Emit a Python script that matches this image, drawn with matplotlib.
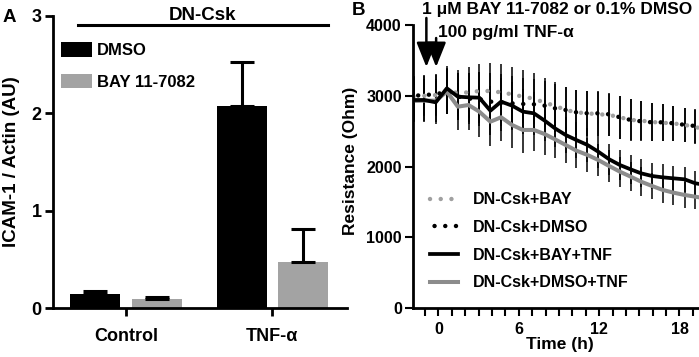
import matplotlib
matplotlib.use('Agg')
import matplotlib.pyplot as plt
import numpy as np

plt.rcParams['font.family'] = ['Liberation Sans', 'DejaVu Sans']
plt.rcParams['font.weight'] = 'bold'
plt.rcParams['axes.labelweight'] = 'bold'

# panel A: ICAM-1 western blot quantification
groups = ['Control', 'TNF-α']
dmso_vals = [0.147, 2.075]
dmso_err = [0.035, 0.455]
bay_vals = [0.095, 0.47]
bay_err = [0.025, 0.345]

# panel B: resistance time course (h, Ohm)
time_h = [-1.85, -1.05, -0.2, 0.63, 1.45, 2.25, 3.05, 3.88, 4.68, 5.5, 6.3, 7.13, 7.93, 8.7,
          9.5, 10.3, 11.13, 11.93, 12.75, 13.55, 14.35, 15.13, 15.95, 16.75, 17.55, 18.38, 19.18, 20.0]
csk_bay = [2990, 3000, 3010, 3070, 3040, 3049, 3068, 3068, 3049, 3021, 2988, 2960, 2903, 2860,
           2800, 2767, 2753, 2740, 2730, 2697, 2660, 2650, 2630, 2620, 2610, 2590, 2560, 2520]
csk_dmso = [3000, 3012, 3021, 3060, 2990, 2960, 2955, 2918, 2908, 2894, 2885, 2880, 2861, 2824,
            2800, 2767, 2753, 2753, 2739, 2697, 2659, 2640, 2626, 2626, 2612, 2590, 2574, 2560]
csk_bay_tnf = [2941, 2941, 2908, 3106, 2988, 2979, 2974, 2790, 2918, 2861, 2777, 2753, 2650, 2541,
               2447, 2376, 2306, 2212, 2104, 2023, 1962, 1906, 1868, 1849, 1835, 1821, 1765, 1740]
csk_dmso_tnf = [2927, 2932, 2932, 3059, 2847, 2870, 2777, 2635, 2697, 2588, 2518, 2518, 2460, 2386,
                2306, 2226, 2165, 2094, 2009, 1929, 1859, 1788, 1727, 1671, 1633, 1600, 1576, 1550]
err_dotted = [280, 280, 290, 320, 330, 360, 380, 400, 400, 380, 370, 360, 350, 340,
              330, 320, 320, 310, 300, 300, 290, 280, 270, 260, 250, 240, 240, 240]
err_tnf = [300, 300, 300, 320, 330, 350, 360, 350, 340, 330, 320, 300, 290, 270,
           260, 250, 240, 230, 220, 210, 200, 200, 190, 190, 180, 180, 180, 180]

fig = plt.figure(figsize=(6.99, 3.57), dpi=100)

# ---------------- panel A ----------------
axA = fig.add_axes([0.0754, 0.1364, 0.421, 0.8196])
x = np.arange(len(groups))
w = 0.342
axA.bar(x - 0.21, dmso_vals, w, color='black', label='DMSO')
axA.bar(x + 0.21, bay_vals, w, color='#a3a3a3', label='BAY 11-7082')
axA.errorbar(x - 0.21, dmso_vals, yerr=[np.zeros(2), dmso_err], fmt='none',
             ecolor='black', elinewidth=2.2, capsize=8.5, capthick=2.2)
axA.errorbar(x + 0.21, bay_vals, yerr=[np.zeros(2), bay_err], fmt='none',
             ecolor='black', elinewidth=2.2, capsize=8.5, capthick=2.2)
axA.set_xlim(-0.5, 1.51)
axA.set_ylim(0, 3)
axA.set_yticks([0, 1, 2, 3])
axA.set_xticks(x)
axA.set_xticklabels(groups)
axA.tick_params(labelsize=13, width=2, length=6, pad=2)
axA.tick_params(axis='x', pad=8)
for lbl in axA.get_xticklabels() + axA.get_yticklabels():
    lbl.set_fontweight('bold')
for s in ['top', 'right']:
    axA.spines[s].set_visible(False)
for s in ['left', 'bottom']:
    axA.spines[s].set_linewidth(2)
axA.set_ylabel('ICAM-1 / Actin (AU)', fontsize=13.5)
axA.yaxis.set_label_coords(-0.111, 0.5)
axA.plot([-0.33, 1.38], [2.905, 2.905], color='black', lw=2.2, clip_on=False)
axA.text(0.52, 3.0, 'DN-Csk', ha='center', va='center', fontsize=13.5)
axA.legend(loc='upper left', bbox_to_anchor=(0.028, 0.91), frameon=False,
           prop={'weight': 'bold', 'size': 12},
           handlelength=1.86, handleheight=0.96, labelspacing=0.95, handletextpad=0.3,
           borderpad=0, borderaxespad=0)
fig.text(0.004, 0.975, 'A', fontsize=13.5, va='top', ha='left')

# ---------------- panel B ----------------
axB = fig.add_axes([0.5908, 0.1364, 0.4196, 0.7936])
axB.errorbar(time_h, csk_dmso, yerr=err_dotted, fmt='none', ecolor='black', elinewidth=1.1)
axB.errorbar(time_h, csk_bay, yerr=err_dotted, fmt='none', ecolor='black', elinewidth=1.1)
axB.errorbar(time_h, csk_bay_tnf, yerr=err_tnf, fmt='none', ecolor='black', elinewidth=1.1)
axB.errorbar(time_h, csk_dmso_tnf, yerr=err_tnf, fmt='none', ecolor='black', elinewidth=1.1)
axB.plot(time_h, csk_bay, color='#a0a0a0', lw=3.2, ls=(0, (0.01, 2.4)),
         dash_capstyle='round', label='DN-Csk+BAY')
axB.plot(time_h, csk_dmso, color='black', lw=3.2, ls=(3.8, (0.01, 2.4)),
         dash_capstyle='round', label='DN-Csk+DMSO')
axB.plot(time_h, csk_dmso_tnf, color='#8c8c8c', lw=2.9, label='DN-Csk+DMSO+TNF')
axB.plot(time_h, csk_bay_tnf, color='black', lw=2.7, label='DN-Csk+BAY+TNF')
axB.set_xlim(-1.9, 20)
axB.set_ylim(0, 4000)
axB.set_xticks([0, 6, 12, 18])
axB.set_xticks(np.arange(-1, 21), minor=True)
axB.set_yticks([0, 1000, 2000, 3000, 4000])
axB.tick_params(labelsize=11.5, width=1.5, length=6, pad=2)
axB.tick_params(axis='x', which='minor', width=1.5, length=6)
axB.tick_params(axis='x', pad=4)
for lbl in axB.get_xticklabels() + axB.get_yticklabels():
    lbl.set_fontweight('bold')
for s in ['top', 'right']:
    axB.spines[s].set_visible(False)
for s in ['left', 'bottom']:
    axB.spines[s].set_linewidth(2)
axB.set_xlabel('Time (h)', fontsize=12.5, labelpad=0)
axB.set_ylabel('Resistance (Ohm)', fontsize=12.5)
axB.yaxis.set_label_coords(-0.188, 0.52)

h, l = axB.get_legend_handles_labels()
order = [0, 1, 3, 2]
axB.legend([h[i] for i in order], [l[i] for i in order], loc='upper left',
           bbox_to_anchor=(0.058, 0.41), frameon=False,
           prop={'weight': 'bold', 'size': 11.5},
           handlelength=1.77, labelspacing=0.8, handletextpad=0.9,
           borderpad=0, borderaxespad=0)

arrow = dict(arrowstyle='-|>,head_length=0.75,head_width=0.3', lw=1.8, color='black',
             mutation_scale=20, shrinkA=0, shrinkB=0)
axB.annotate('', xy=(-0.9, 3407), xytext=(-0.9, 4099), arrowprops=arrow, annotation_clip=False)
axB.annotate('', xy=(-0.17, 3407), xytext=(-0.17, 3816), arrowprops=arrow, annotation_clip=False)
axB.text(-1.25, 4212, '1 μM BAY 11-7082 or 0.1% DMSO', fontsize=12.5, ha='left', va='center',
         clip_on=False)
axB.text(0.0, 3887, '100 pg/ml TNF-α', fontsize=12.5, ha='left', va='center', clip_on=False)
fig.text(0.503, 0.995, 'B', fontsize=13.5, va='top', ha='left')

fig.savefig('out.png', dpi=100)
